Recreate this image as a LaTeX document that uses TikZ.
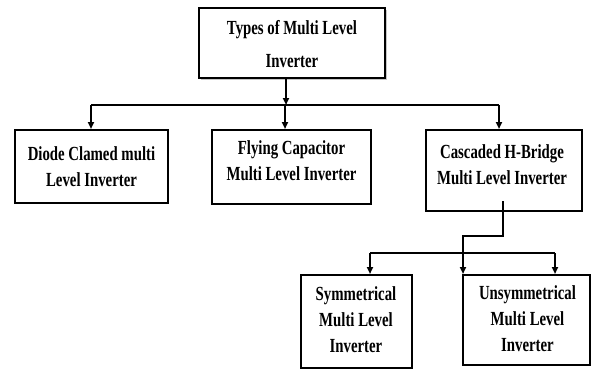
\documentclass[tikz,border=0pt]{standalone}
\usepackage{fontspec}
\newfontfamily\dfont{Liberation Serif}[FakeStretch=0.74]
\usetikzlibrary{arrows.meta,shadows}
\begin{document}
\begin{tikzpicture}[x=1pt,y=-1pt,
  boxst/.style={draw=black,line width=2pt,fill=white,inner sep=0pt},
  txt/.style={align=center,font=\dfont\bfseries\fontsize{20}{26}\selectfont,inner sep=0pt},
  ln/.style={line width=2pt},
  arr/.style={line width=2pt,-{Triangle[length=7pt,width=6pt]}}]
\useasboundingbox (0,0) rectangle (593,370);
% boxes
\node[boxst,drop shadow={shadow xshift=2pt,shadow yshift=-2pt,opacity=0.45},minimum width=186pt,minimum height=70pt] (top) at (292,43) {};
\node[boxst,minimum width=153pt,minimum height=73pt] (b1) at (91.5,166.5) {};
\node[boxst,minimum width=159pt,minimum height=74pt] (b2) at (291.5,167) {};
\node[boxst,minimum width=156pt,minimum height=81pt] (b3) at (504,170.5) {};
\node[boxst,minimum width=111pt,minimum height=93pt] (b4) at (356.5,321.5) {};
\node[boxst,minimum width=127pt,minimum height=90pt] (b5) at (526.5,320) {};
% texts
\node[txt,font=\dfont\bfseries\fontsize{20}{33}\selectfont] (t0) at (292,44) {Types of Multi Level\\Inverter};
\node[txt] (t1) at (91.5,167) {Diode Clamed multi\\Level Inverter};
\node[txt] (t2) at (291.5,161) {Flying Capacitor\\Multi Level Inverter};
\node[txt] (t3) at (502,165) {Cascaded H-Bridge\\Multi Level Inverter};
\node[txt] (t4) at (356,320) {Symmetrical\\Multi Level\\Inverter};
\node[txt] (t5) at (527.5,319) {Unsymmetrical\\Multi Level\\Inverter};
% connectors level 1
\coordinate (j0) at (286,105);
\coordinate (h1) at (91,105);
\coordinate (h2) at (285,105);
\coordinate (h3) at (499,105);
\draw[arr] (top.south -| j0) -- (j0);
\draw[ln] (h1) -- (h3);
\draw[arr] (h1) -- (h1 |- b1.north);
\draw[arr] (h2) -- (h2 |- b2.north);
\draw[arr] (h3) -- (h3 |- b3.north);
% connectors level 2
\coordinate (s0) at (503,201);
\coordinate (s1) at (503,236);
\coordinate (s2) at (463,236);
\draw[arr] (s0) -- (s1) -- (s2) -- (s2 |- b5.north);
\coordinate (g1) at (370,253);
\coordinate (g2) at (555,253);
\draw[ln] (g1) -- (g2);
\draw[arr] (g1) -- (g1 |- b4.north);
\draw[arr] (g2) -- (g2 |- b5.north);
\end{tikzpicture}
\end{document}
